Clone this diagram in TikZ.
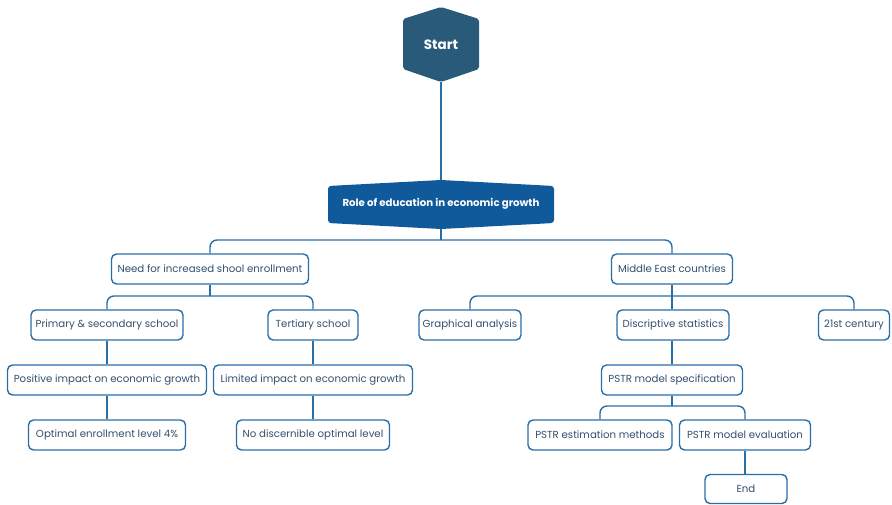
\documentclass[tikz,border=0pt]{standalone}
\usepackage{fontspec}
\setmainfont{Poppins}
\begin{document}
\begin{tikzpicture}[x=1pt,y=-1pt,
  box/.style={draw=linkblue, line width=1.4pt, rounded corners=5pt, fill=white,
    text=textgray, font=\fontsize{10.2}{12}\selectfont, minimum height=30pt,
    inner xsep=2pt, anchor=center},
  conn/.style={draw=linkblue, line width=1.4pt, rounded corners=7pt},
]
\definecolor{linkblue}{HTML}{2A6EA6}
\definecolor{textgray}{HTML}{34506C}
\definecolor{startfill}{HTML}{2A5A7A}
\definecolor{rolefill}{HTML}{10599A}
\useasboundingbox (0,0) rectangle (892,504);

% start hexagon
\fill[startfill, rounded corners=2pt] (441,7) -- (479,19) -- (479,69) -- (441,82) -- (403,69) -- (403,19) -- cycle;
\node[text=white, font=\fontsize{13.5}{15}\selectfont\bfseries] (start) at (441,45) {Start};
\coordinate (startbot) at (441,82);

% main topic shape
\fill[rolefill, rounded corners=3pt] (441,180) -- (554,186) -- (554,223) -- (441,229) -- (328,223) -- (328,186) -- cycle;
\node[text=white, font=\fontsize{10.2}{12}\selectfont\bfseries] (role) at (441,204) {Role of education in economic growth};
\coordinate (roletop) at (441,180);
\coordinate (rolebot) at (441,229);

% level 1
\node[box, minimum width=197pt] (need) at (210,269) {Need for increased shool enrollment};
\node[box, minimum width=121pt] (me) at (672,269) {Middle East countries};

% level 2
\node[box, minimum width=152pt] (prim) at (107,325) {Primary \& secondary school};
\node[box, minimum width=90pt] (tert) at (313,325) {Tertiary school};
\node[box, minimum width=102pt] (graph) at (470,325) {Graphical analysis};
\node[box, minimum width=112pt] (desc) at (673,325) {Discriptive statistics};
\node[box, minimum width=71pt] (cent) at (854,325) {21st century};

% level 3
\node[box, minimum width=199pt] (pos) at (107,380) {Positive impact on economic growth};
\node[box, minimum width=199pt] (lim) at (313,380) {Limited impact on economic growth};
\node[box, minimum width=141pt] (spec) at (672,380) {PSTR model specification};

% level 4
\node[box, minimum width=157pt] (opt) at (107,435) {Optimal enrollment level 4\%};
\node[box, minimum width=153pt] (nod) at (313,435) {No discernible optimal level};
\node[box, minimum width=144pt] (est) at (600,435) {PSTR estimation methods};
\node[box, minimum width=131pt] (eval) at (745,435) {PSTR model evaluation};

% level 5
\node[box, minimum width=82pt, minimum height=29pt] (end) at (746,489) {End};

% bus junctions
\coordinate (busA) at (441,240);
\coordinate (busB) at (210,296);
\coordinate (busC) at (672,296);
\coordinate (busD) at (672,406);

% connectors
\draw[conn] (startbot) -- (roletop);
\draw[conn] (rolebot) -- (busA);
\draw[conn] (busA) -| (need.north);
\draw[conn] (busA) -| (me.north);

\draw[conn] (need.south) -- (busB);
\draw[conn] (busB) -| (prim.north);
\draw[conn] (busB) -| (tert.north);

\draw[conn] (me.south) -- (busC);
\draw[conn] (busC) -| (graph.north);
\draw[conn] (busC) -- (desc.north -| busC);
\draw[conn] (busC) -| (cent.north);

\draw[conn] (prim.south) -- (pos.north);
\draw[conn] (pos.south) -- (opt.north);
\draw[conn] (tert.south) -- (lim.north);
\draw[conn] (lim.south) -- (nod.north);

\draw[conn] (desc.south -| spec) -- (spec.north);
\draw[conn] (spec.south) -- (busD);
\draw[conn] (busD) -| (est.north);
\draw[conn] (busD) -| (eval.north);
\draw[conn] (eval.south) -- (eval.south |- end.north);
\end{tikzpicture}
\end{document}
